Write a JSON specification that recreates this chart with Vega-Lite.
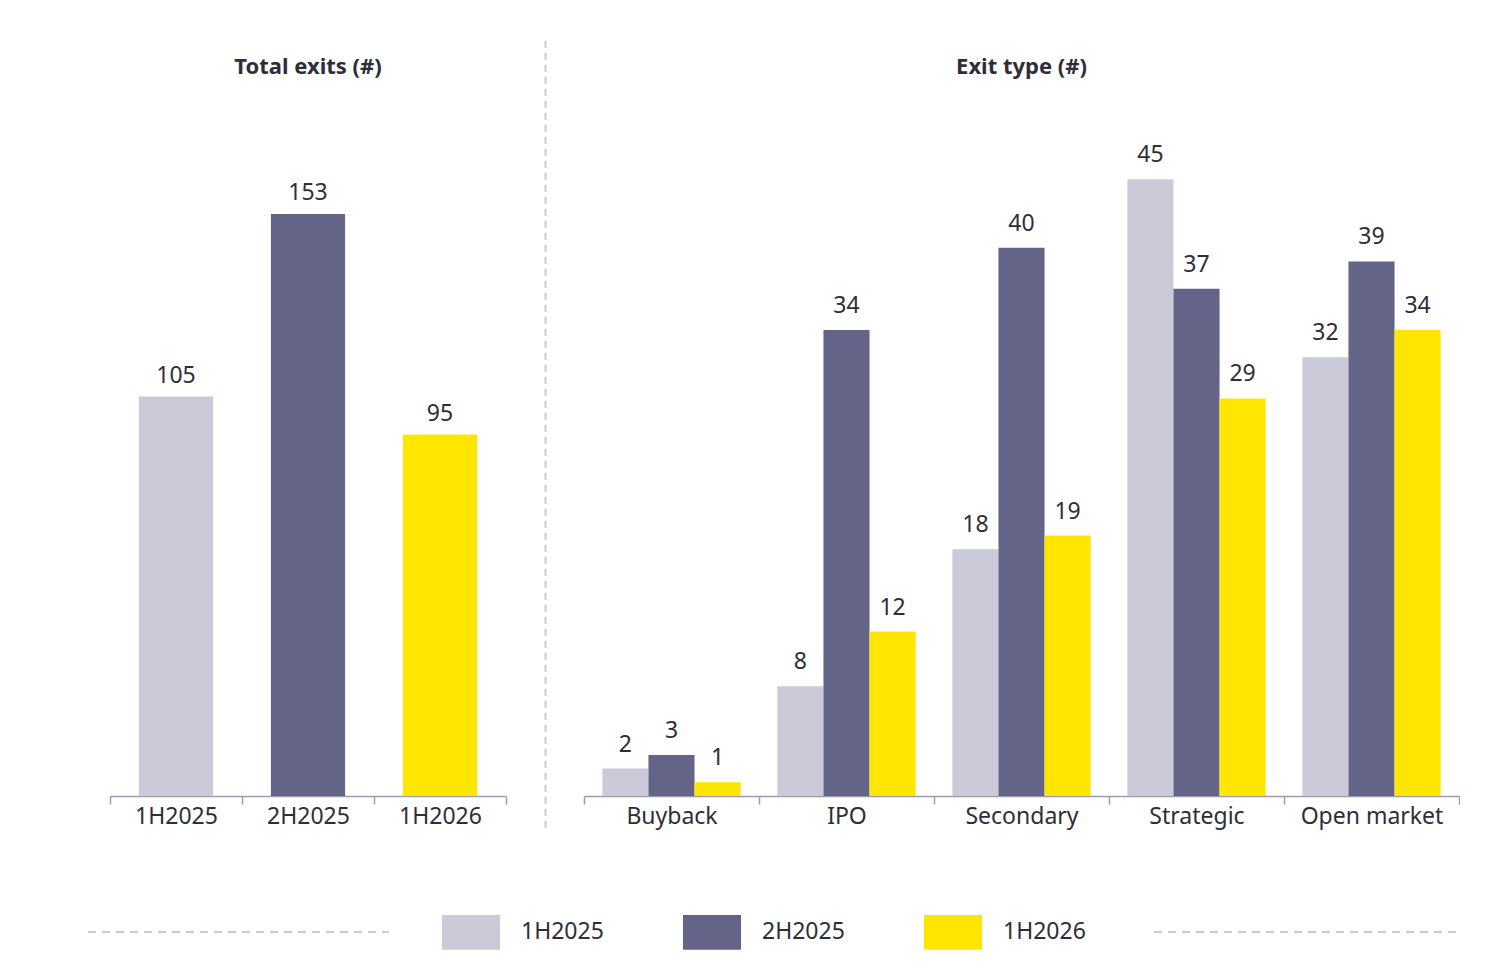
{
  "$schema": "https://vega.github.io/schema/vega-lite/v6.json",
  "background": "white",
  "padding": {"left": 87, "top": 40, "right": 0, "bottom": 0},
  "bounds": "flush",
  "spacing": 38,
  "config": {
    "view": {"stroke": null},
    "font": "Noto Sans",
    "title": {"fontSize": 22, "fontWeight": "bold", "color": "#2E2E38", "anchor": "middle", "offset": 22, "baseline": "alphabetic", "font": "Noto Sans"},
    "axisX": {
      "domainColor": "#9A9AB8", "domainWidth": 1.5, "tickColor": "#9A9AB8", "tickWidth": 1.5, "tickSize": 8,
      "tickExtra": true, "labelFontSize": 23, "labelColor": "#2E2E38", "labelPadding": 1, "labelAngle": 0, "title": null, "labelFont": "Noto Sans"
    },
    "legend": {
      "orient": "none", "legendX": 332, "legendY": 802, "direction": "horizontal", "title": null,
      "symbolType": "M-1,-0.6H1V0.6H-1Z", "symbolSize": 3364, "symbolStrokeWidth": 0, "symbolOpacity": 1,
      "labelFontSize": 23, "labelColor": "#2E2E38", "labelOffset": 21, "columnPadding": 79, "padding": 0, "labelFont": "Noto Sans"
    }
  },
  "datasets": {
    "total": [
      {"period": "1H2025", "value": 105},
      {"period": "2H2025", "value": 153},
      {"period": "1H2026", "value": 95}
    ],
    "types": [
      {"type": "Buyback", "period": "1H2025", "value": 2},
      {"type": "Buyback", "period": "2H2025", "value": 3},
      {"type": "Buyback", "period": "1H2026", "value": 1},
      {"type": "IPO", "period": "1H2025", "value": 8},
      {"type": "IPO", "period": "2H2025", "value": 34},
      {"type": "IPO", "period": "1H2026", "value": 12},
      {"type": "Secondary", "period": "1H2025", "value": 18},
      {"type": "Secondary", "period": "2H2025", "value": 40},
      {"type": "Secondary", "period": "1H2026", "value": 19},
      {"type": "Strategic", "period": "1H2025", "value": 45},
      {"type": "Strategic", "period": "2H2025", "value": 37},
      {"type": "Strategic", "period": "1H2026", "value": 29},
      {"type": "Open market", "period": "1H2025", "value": 32},
      {"type": "Open market", "period": "2H2025", "value": 39},
      {"type": "Open market", "period": "1H2026", "value": 34}
    ]
  },
  "hconcat": [
    {
      "title": "Total exits (#)",
      "width": 396,
      "height": 695,
      "data": {"name": "total"},
      "encoding": {
        "x": {"field": "period", "type": "nominal", "sort": ["1H2025", "2H2025", "1H2026"],
              "scale": {"paddingInner": 0.438, "paddingOuter": 0.219},
              "axis": {"bandPosition": 1.779, "tickOffset": -28.9, "labelOffset": 28.9}},
        "y": {"field": "value", "type": "quantitative", "axis": null, "scale": {"domain": [0, 182.7], "nice": false}}
      },
      "layer": [
        {
          "mark": {"type": "bar"},
          "encoding": {
            "color": {"field": "period", "type": "nominal",
                      "scale": {"domain": ["1H2025", "2H2025", "1H2026"], "range": ["#CBCAD9", "#646489", "#FFE600"]}}
          }
        },
        {
          "mark": {"type": "text", "fontSize": 23, "color": "#2E2E38", "baseline": "alphabetic", "dy": -14, "font": "Noto Sans"},
          "encoding": {"text": {"field": "value", "type": "quantitative"}}
        },
        {
          "data": {"values": [{}]},
          "mark": {"type": "rule", "stroke": "#CBCAD9", "strokeWidth": 2, "strokeDash": [8, 6]},
          "encoding": {"x": {"value": -22}, "x2": {"value": 279}, "y": {"value": 831}}
        }
      ]
    },
    {
      "width": 2,
      "height": 695,
      "data": {"values": [{}]},
      "mark": {"type": "rule", "stroke": "#CBCAD9", "strokeWidth": 2, "strokeDash": [7, 5]},
      "encoding": {"x": {"value": 1.5}, "y": {"value": -60}, "y2": {"value": 730}}
    },
    {
      "title": "Exit type (#)",
      "width": 875,
      "height": 695,
      "layer": [
        {
          "data": {"name": "types"},
          "encoding": {
            "x": {"field": "type", "type": "nominal", "sort": ["Buyback", "IPO", "Secondary", "Strategic", "Open market"],
                  "scale": {"paddingInner": 0.21, "paddingOuter": 0.105},
                  "axis": {"bandPosition": 1.2658, "tickOffset": -18.375, "labelOffset": 18.375}},
            "xOffset": {"field": "period", "type": "nominal", "sort": ["1H2025", "2H2025", "1H2026"],
                        "scale": {"paddingInner": 0, "paddingOuter": 0}},
            "y": {"field": "value", "type": "quantitative", "axis": null, "scale": {"domain": [0, 50.7], "nice": false}}
          },
          "layer": [
            {
              "mark": {"type": "bar"},
              "encoding": {
                "color": {"field": "period", "type": "nominal",
                          "scale": {"domain": ["1H2025", "2H2025", "1H2026"], "range": ["#CBCAD9", "#646489", "#FFE600"]}}
              }
            },
            {
              "mark": {"type": "text", "fontSize": 23, "color": "#2E2E38", "baseline": "alphabetic", "dy": -17, "font": "Noto Sans"},
              "encoding": {"text": {"field": "value", "type": "quantitative"}}
            }
          ]
        },
        {
          "data": {"values": [{}]},
          "mark": {"type": "rule", "stroke": "#CBCAD9", "strokeWidth": 2, "strokeDash": [8, 6]},
          "encoding": {"x": {"value": 570}, "x2": {"value": 872}, "y": {"value": 831}}
        }
      ]
    }
  ]
}
